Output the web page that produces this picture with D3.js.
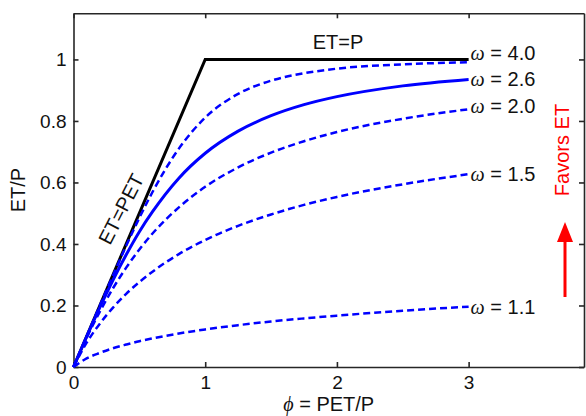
<!DOCTYPE html>
<html>
<head>
<meta charset="utf-8">
<script src="https://cdn.jsdelivr.net/npm/d3@7"></script>
<style>
  body { margin: 0; background: #fff; }
  text { font-family: "Liberation Sans", Arial, sans-serif; }
</style>
</head>
<body>
<script>
// PET/P sample positions
var phi = [0, 0.1, 0.2, 0.3, 0.4, 0.5, 0.6, 0.8, 1.0, 1.25, 1.5, 1.75, 2.0, 2.5, 3.0];

// ET/P for each omega
var omegas = ["1.1", "1.5", "2.0", "2.6", "4.0"];
var et11 = [0, 0.028, 0.046, 0.061, 0.073, 0.084, 0.093, 0.109, 0.122, 0.136, 0.148, 0.158, 0.167, 0.183, 0.196];
var et15 = [0, 0.079, 0.141, 0.193, 0.238, 0.276, 0.310, 0.367, 0.413, 0.459, 0.496, 0.527, 0.553, 0.594, 0.627];
var et20 = [0, 0.095, 0.180, 0.256, 0.323, 0.382, 0.434, 0.519, 0.586, 0.649, 0.697, 0.734, 0.764, 0.807, 0.838];
var et26 = [0, 0.099, 0.194, 0.283, 0.365, 0.440, 0.505, 0.614, 0.695, 0.767, 0.817, 0.853, 0.879, 0.914, 0.935];
var et40 = [0, 0.100, 0.200, 0.298, 0.394, 0.485, 0.569, 0.710, 0.811, 0.888, 0.931, 0.955, 0.970, 0.984, 0.991];
var series = [et11, et15, et20, et26, et40];
var labelY = [0.196, 0.627, 0.85, 0.938, 1.02];

// energy / water limits
var limitX = [0, 1, 3];
var limitY = [0, 1, 1];

var xTicks = [0, 1, 2, 3];
var yTicks = [0, 0.2, 0.4, 0.6, 0.8, 1];

/***********************************************************************************/
// Setup

var W = 586, H = 416;
var svg = d3.select("body").append("svg").attr("width", W).attr("height", H);

var x = d3.scaleLinear().domain([0, 3.876]).range([73.5, 584]);
var y = d3.scaleLinear().domain([0, 1.15]).range([367, 13.3]);

var axisColor = "#262626";

/***********************************************************************************/
// Axes (box on, ticks inward)

function styleAxis(g) {
  g.selectAll(".domain").attr("stroke", axisColor).attr("stroke-width", 1.6);
  g.selectAll(".tick line").attr("stroke", axisColor).attr("stroke-width", 1.6);
  g.selectAll(".tick text").attr("fill", "#111").style("font-size", "19px")
    .style("font-family", "'Liberation Sans', Arial, sans-serif");
}

svg.append("g").attr("transform", "translate(0," + y(0) + ")")
  .call(d3.axisBottom(x).tickValues(xTicks).tickSize(-5).tickSizeOuter(0).tickPadding(9).tickFormat(d3.format("d")))
  .call(styleAxis);
svg.append("g").attr("transform", "translate(0," + y(1.15) + ")")
  .call(d3.axisTop(x).tickValues(xTicks).tickSize(-5).tickSizeOuter(0).tickFormat(""))
  .call(styleAxis);
svg.append("g").attr("transform", "translate(" + x(0) + ",0)")
  .call(d3.axisLeft(y).tickValues(yTicks).tickSize(-5).tickSizeOuter(0).tickPadding(7).tickFormat(function(d){ return d === 0 || d === 1 ? d : d.toFixed(1); }))
  .call(styleAxis);
svg.append("g").attr("transform", "translate(" + x(3.876) + ",0)")
  .call(d3.axisRight(y).tickValues(yTicks).tickSize(-5).tickSizeOuter(0).tickFormat(""))
  .call(styleAxis);

/***********************************************************************************/
// Curves

var line = d3.line().x(function(d){ return x(d[0]); }).y(function(d){ return y(d[1]); }).curve(d3.curveMonotoneX);

svg.append("path")
  .attr("d", d3.line().x(function(d){ return x(d[0]); }).y(function(d){ return y(d[1]); })(d3.zip(limitX, limitY)))
  .attr("fill", "none").attr("stroke", "#000").attr("stroke-width", 3);

series.forEach(function(s, i){
  var solid = omegas[i] === "2.6";
  svg.append("path")
    .attr("d", line(d3.zip(phi, s)))
    .attr("fill", "none")
    .attr("stroke", "#0000ff")
    .attr("stroke-width", solid ? 3 : 2.5)
    .attr("stroke-dasharray", solid ? null : "7,4");
});

/***********************************************************************************/
// Labels

omegas.forEach(function(w, i){
  var t = svg.append("text").attr("x", x(3) + 2).attr("y", y(labelY[i])).attr("dy", "0.35em")
    .style("font-size", "20px").attr("fill", "#111");
  t.append("tspan").text("ω").style("font-family", "'Liberation Serif', serif").style("font-style", "italic");
  t.append("tspan").text(" = " + w);
});

svg.append("text").attr("x", 338).attr("y", 49).attr("text-anchor", "middle")
  .style("font-size", "20px").attr("fill", "#111").text("ET=P");

svg.append("text").attr("transform", "translate(121,209) rotate(-63)")
  .attr("text-anchor", "middle").attr("dy", "0.35em").style("font-size", "20px").attr("fill", "#111").text("ET=PET");

svg.append("text").attr("transform", "translate(18," + ((y(0) + y(1.15)) / 2) + ") rotate(-90)")
  .attr("text-anchor", "middle").attr("dy", "0.35em").style("font-size", "20px").attr("fill", "#111").text("ET/P");

var xl = svg.append("text").attr("x", (x(0) + x(3.876)) / 2).attr("y", 411).attr("text-anchor", "middle")
  .style("font-size", "20px").attr("fill", "#111");
xl.append("tspan").text("ϕ").style("font-family", "'Liberation Serif', serif").style("font-style", "italic");
xl.append("tspan").text(" = PET/P");

// Favors ET annotation
svg.append("text").attr("transform", "translate(562,150) rotate(-90)")
  .attr("text-anchor", "middle").attr("dy", "0.35em").attr("fill", "#ff0000")
  .style("font-size", "20px").text("Favors ET");

svg.append("line").attr("x1", 565).attr("x2", 565).attr("y1", 297).attr("y2", 238)
  .attr("stroke", "#ff0000").attr("stroke-width", 3);
svg.append("path").attr("d", "M565,222 L557,242 L573,242 Z").attr("fill", "#ff0000");
</script>
</body>
</html>
